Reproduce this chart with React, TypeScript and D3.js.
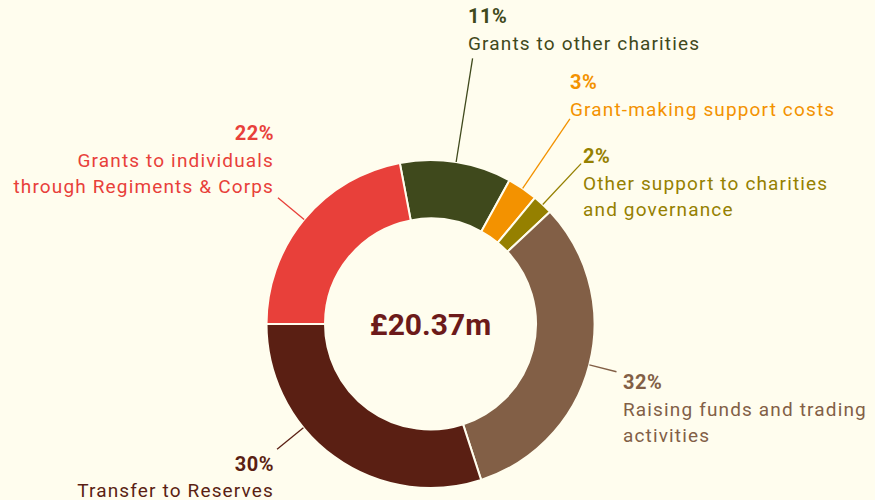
import React from "react";
import * as d3 from "d3";

// slice data, clockwise from the top
const labels = [
  "Grants to other charities",
  "Grant-making support costs",
  "Other support to charities and governance",
  "Raising funds and trading activities",
  "Transfer to Reserves",
  "Grants to individuals through Regiments & Corps",
];
const shares = [11, 3, 2, 32, 30, 22];
const colors = ["#3f491c", "#f39200", "#958000", "#825f46", "#5a1f13", "#e8403a"];
const labelLines = [
  ["Grants to other charities"],
  ["Grant-making support costs"],
  ["Other support to charities", "and governance"],
  ["Raising funds and trading", "activities"],
  ["Transfer to Reserves"],
  ["Grants to individuals", "through Regiments & Corps"],
];
const total = "£20.37m";

const W = 875;
const H = 500;
const cx = 430.5;
const cy = 324;
const outerR = 164;
const innerR = 105.5;
const startDeg = -10.8;

// label placement: leader end radius, angle nudge, text anchor point
const layout = [
  { r2: 269, nudge: 0, x: 468, y: 23, anchor: "start" },
  { r2: 248, nudge: 0, x: 570, y: 89, anchor: "start" },
  { r2: 220, nudge: 0, x: 583, y: 163, anchor: "start" },
  { r2: 192, nudge: 0, x: 623, y: 389, anchor: "start" },
  { r2: 198, nudge: 14.8, x: 274, y: 470.5, anchor: "end" },
  { r2: 198, nudge: 0, x: 274, y: 140, anchor: "end" },
];

export default function App() {
  const pie = d3
    .pie<number>()
    .sort(null)
    .value((d) => d)
    .startAngle((startDeg * Math.PI) / 180)
    .endAngle(((startDeg + 360) * Math.PI) / 180);
  const arcs = pie(shares);
  const arc = d3.arc<d3.PieArcDatum<number>>().innerRadius(innerR).outerRadius(outerR);
  const font = "Roboto, 'DejaVu Sans', sans-serif";

  return (
    <svg width={W} height={H} style={{ position: "absolute", left: 0, top: 0, background: "#fffdee" }}>
      <rect width={W} height={H} fill="#fffdee" />
      <g transform={`translate(${cx},${cy})`}>
        {arcs.map((a, i) => (
          <path key={labels[i]} d={arc(a) || ""} fill={colors[i]} stroke="#fffdee" strokeWidth={2} />
        ))}
        {arcs.map((a, i) => {
          const ang = (a.startAngle + a.endAngle) / 2 + (layout[i].nudge * Math.PI) / 180;
          const s = Math.sin(ang);
          const c = -Math.cos(ang);
          return (
            <line
              key={"l" + i}
              x1={s * outerR}
              y1={c * outerR}
              x2={s * layout[i].r2}
              y2={c * layout[i].r2}
              stroke={colors[i]}
              strokeWidth={1.3}
            />
          );
        })}
        <text
          x={0}
          y={11}
          textAnchor="middle"
          fontFamily={font}
          fontWeight={700}
          fontSize={30}
          fill="#6c1a1a"
        >
          {total}
        </text>
      </g>
      {layout.map((p, i) => (
        <text
          key={"t" + i}
          x={p.x}
          y={p.y}
          textAnchor={p.anchor}
          fontFamily={font}
          fill={colors[i]}
          fontSize={19}
          letterSpacing={1.15}
        >
          <tspan x={p.x} fontWeight={700} fontSize={20} letterSpacing={0.5}>
            {shares[i]}%
          </tspan>
          {labelLines[i].map((ln, j) => (
            <tspan key={j} x={p.x} dy={26.5}>
              {ln}
            </tspan>
          ))}
        </text>
      ))}
    </svg>
  );
}
